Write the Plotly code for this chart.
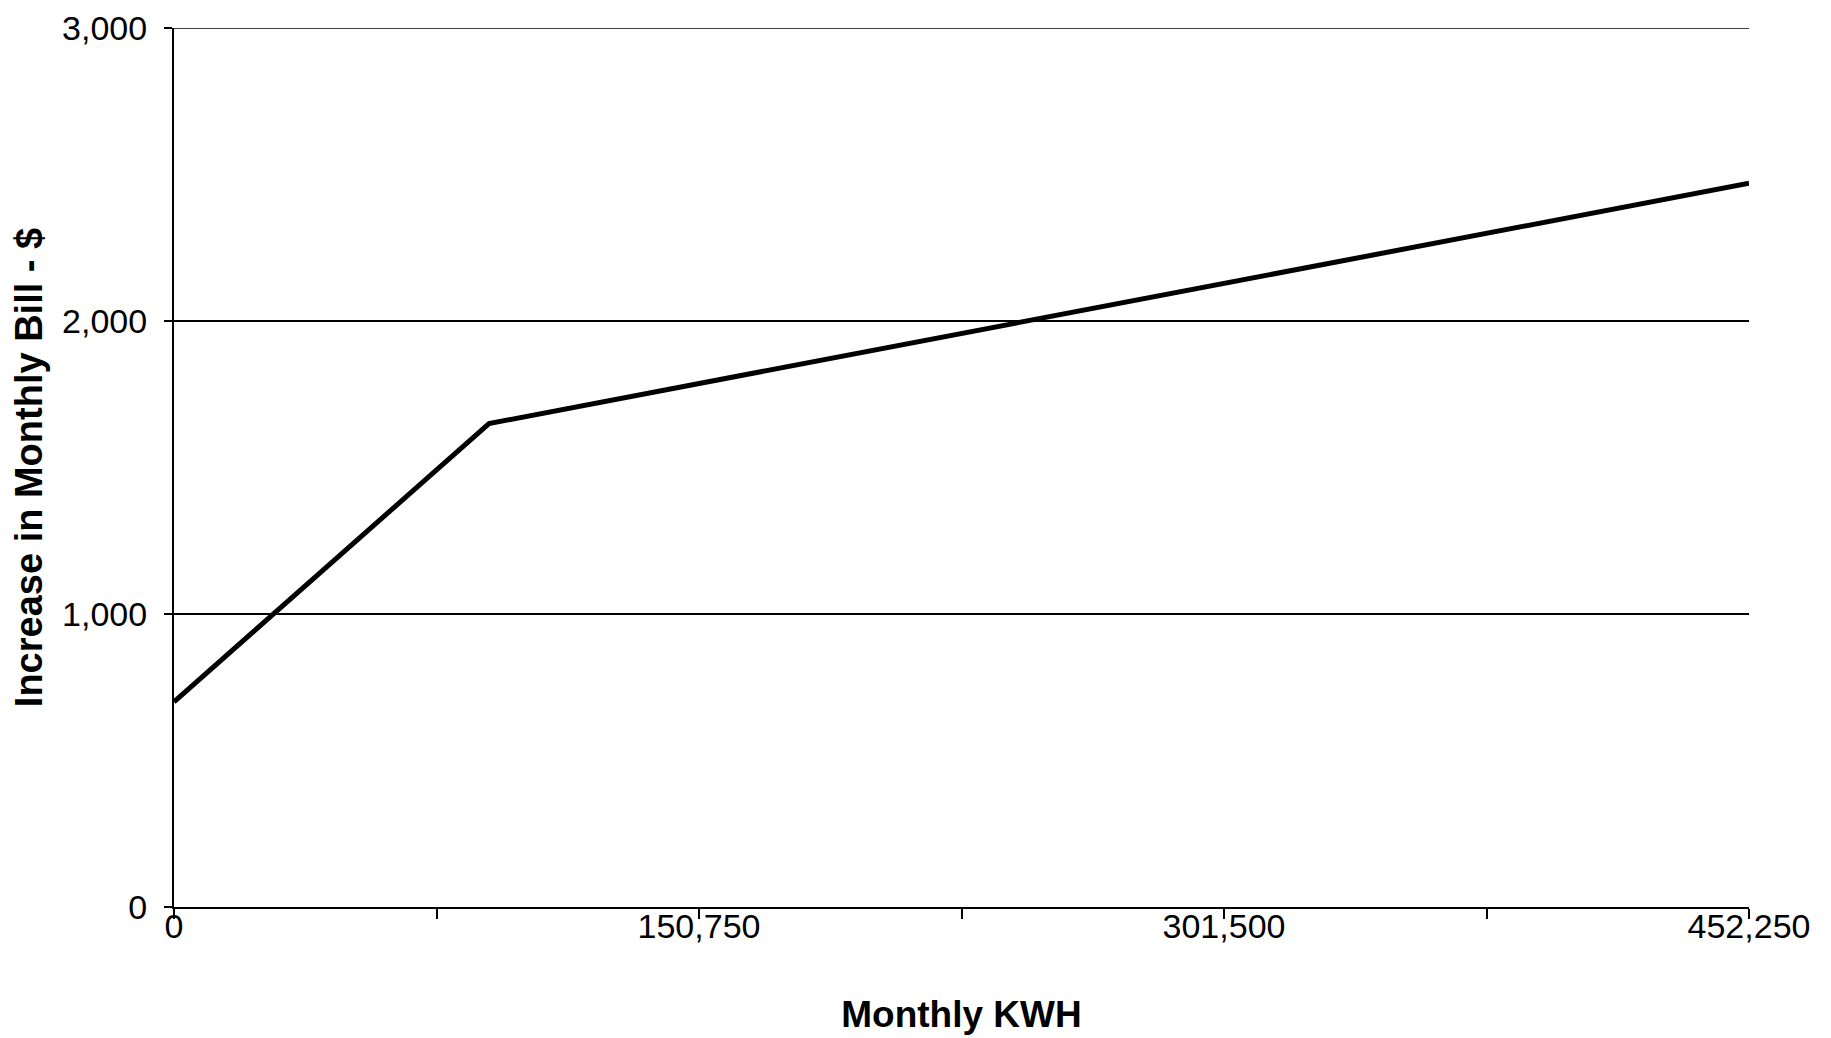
import plotly.graph_objects as go

# break points of the bill increase curve
kwh = [0, 90450, 452250]
increase = [700, 1650, 2470]

x_ticks = [0, 75375, 150750, 226125, 301500, 376875, 452250]
x_tick_text = ['0', '', '150,750', '', '301,500', '', '452,250']
y_ticks = [0, 1000, 2000, 3000]
y_tick_text = ['0', '1,000', '2,000', '3,000']

font_family = 'Arial, Liberation Sans, sans-serif'

trace = go.Scatter(
    x=kwh,
    y=increase,
    mode='lines',
    line=dict(color='black', width=5),
    hoverinfo='x+y',
)

layout = go.Layout(
    width=1831,
    height=1038,
    # page body adds 8px, so margins are shifted to compensate
    margin=dict(l=166, r=90, t=20, b=139),
    paper_bgcolor='white',
    plot_bgcolor='white',
    showlegend=False,
    font=dict(family=font_family, color='black', size=34),
    xaxis=dict(
        range=[0, 452250],
        automargin=False,
        tickmode='array',
        tickvals=x_ticks,
        ticktext=x_tick_text,
        ticks='outside',
        ticklen=10,
        tickwidth=1.5,
        tickcolor='black',
        ticklabelstandoff=-22,
        ticklabeloverflow='allow',
        showline=True,
        linecolor='black',
        linewidth=1.5,
        showgrid=False,
        zeroline=False,
        tickfont=dict(size=34),
        title=dict(text='<b>Monthly KWH</b>', font=dict(size=37), standoff=58),
    ),
    yaxis=dict(
        range=[0, 3000],
        automargin=False,
        tickmode='array',
        tickvals=y_ticks,
        ticktext=y_tick_text,
        ticks='outside',
        ticklen=8,
        tickwidth=1.5,
        tickcolor='black',
        ticklabelstandoff=10,
        ticklabeloverflow='allow',
        showline=True,
        linecolor='black',
        linewidth=2,
        showgrid=True,
        gridcolor='black',
        gridwidth=1.5,
        zeroline=False,
        tickfont=dict(size=34),
        title=dict(text='<b>Increase in Monthly Bill - $</b>', font=dict(size=38), standoff=12),
    ),
)

fig = go.Figure(data=[trace], layout=layout)

# top gridline at the last y tick (plotly drops the grid at the range edge)
fig.add_shape(type='line', xref='paper', yref='y', x0=0, x1=1,
              y0=y_ticks[-1], y1=y_ticks[-1], line=dict(color='black', width=1.5))

fig.write_html("out.html")
